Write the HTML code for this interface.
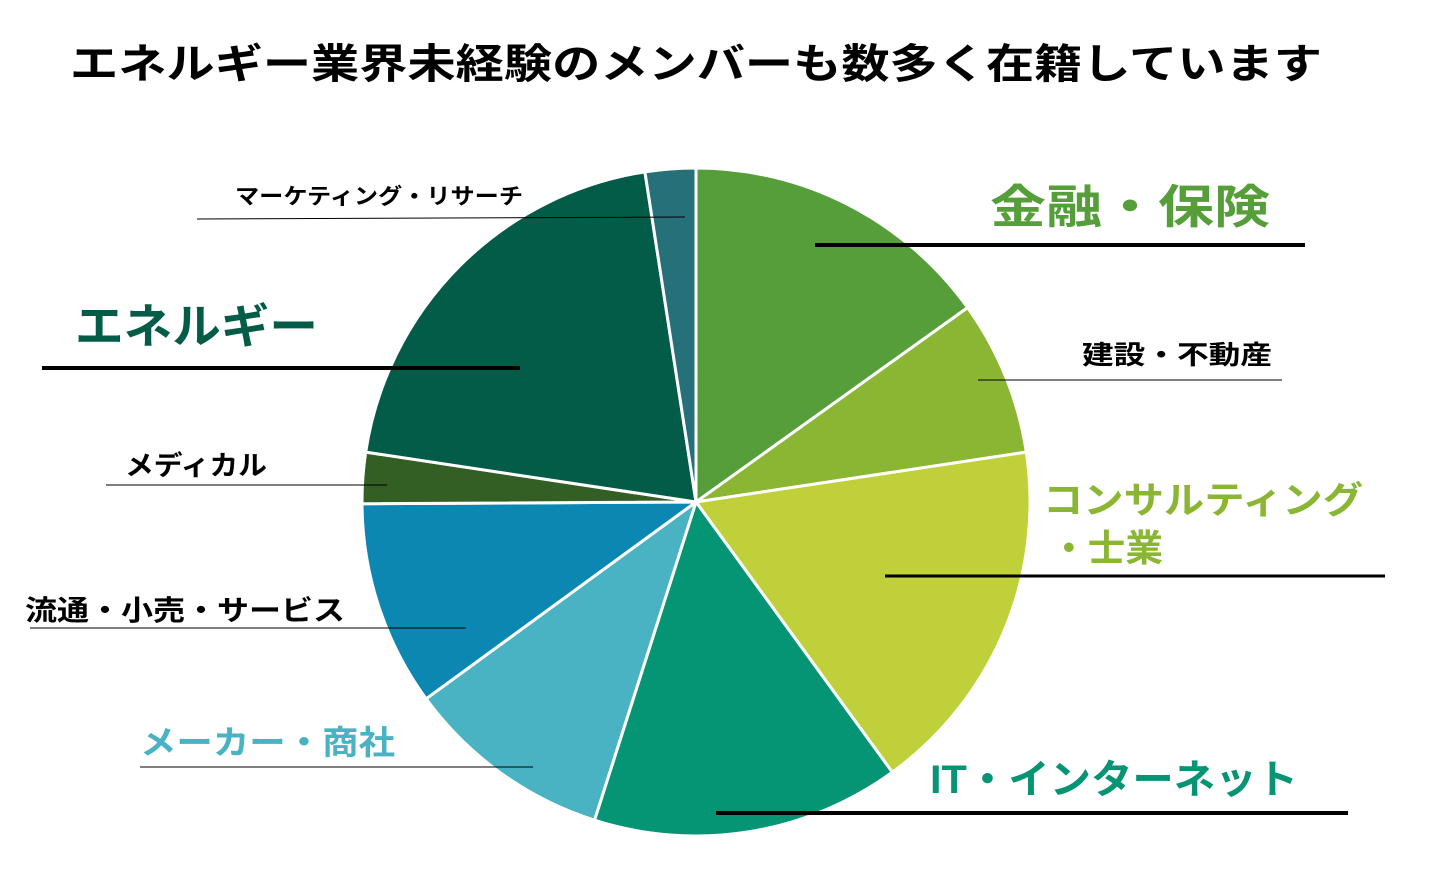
<!DOCTYPE html>
<html><head><meta charset="utf-8"><style>
html,body{margin:0;padding:0;background:#fff;}
svg{display:block;}
text{font-family:"Liberation Sans","Noto Sans CJK JP",sans-serif;font-weight:bold;}
</style></head><body>
<svg width="1440" height="881" viewBox="0 0 1440 881" xmlns="http://www.w3.org/2000/svg">
<text x="70" y="78" font-size="41" fill="#000" textLength="1252" lengthAdjust="spacingAndGlyphs">エネルギー業界未経験のメンバーも数多く在籍しています</text>
<g stroke="#fff" stroke-width="3" stroke-linejoin="round">
<path d="M696,502 L696,168 A334,334 0 0 1 967.6,307.6 Z" fill="#559e3a"/>
<path d="M696,502 L967.6,307.6 A334,334 0 0 1 1026.3,452.1 Z" fill="#8ab633"/>
<path d="M696,502 L1026.3,452.1 A334,334 0 0 1 892.3,772.2 Z" fill="#c0d03a"/>
<path d="M696,502 L892.3,772.2 A334,334 0 0 1 594.5,820.2 Z" fill="#059474"/>
<path d="M696,502 L594.5,820.2 A334,334 0 0 1 426.1,698.8 Z" fill="#4ab3c3"/>
<path d="M696,502 L426.1,698.8 A334,334 0 0 1 362,503.7 Z" fill="#0b87b2"/>
<path d="M696,502 L362,503.7 A334,334 0 0 1 365.7,452.1 Z" fill="#335e24"/>
<path d="M696,502 L365.7,452.1 A334,334 0 0 1 644.9,171.9 Z" fill="#035c47"/>
<path d="M696,502 L644.9,171.9 A334,334 0 0 1 696,168 Z" fill="#26707a"/>
</g>
<g stroke="#000">
<line x1="815" y1="245" x2="1305" y2="245" stroke-width="4"/>
<line x1="978" y1="380" x2="1282" y2="380" stroke-width="1"/>
<line x1="885" y1="576" x2="1385" y2="576" stroke-width="3"/>
<line x1="716" y1="813" x2="1348" y2="813" stroke-width="4"/>
<line x1="140" y1="767" x2="533" y2="767" stroke-width="1"/>
<line x1="30" y1="628" x2="466" y2="628" stroke-width="1"/>
<line x1="106" y1="485" x2="387" y2="485" stroke-width="1"/>
<line x1="42" y1="368" x2="520" y2="368" stroke-width="4"/>
<line x1="197" y1="219" x2="685" y2="217" stroke-width="1"/>
</g>
<text x="990" y="223" font-size="46" fill="#559e3a" textLength="280" lengthAdjust="spacingAndGlyphs">金融・保険</text>
<text x="1082" y="364" font-size="26" fill="#000" textLength="190" lengthAdjust="spacingAndGlyphs">建設・不動産</text>
<text x="1043" y="513" font-size="37" fill="#8ab633" textLength="320" lengthAdjust="spacingAndGlyphs">コンサルティング</text>
<text x="1050" y="561" font-size="37" fill="#8ab633" textLength="113" lengthAdjust="spacingAndGlyphs">・士業</text>
<text x="930" y="793" font-size="40" fill="#059474" textLength="368" lengthAdjust="spacingAndGlyphs">IT・インターネット</text>
<text x="140" y="754" font-size="33" fill="#4ab3c3" textLength="255" lengthAdjust="spacingAndGlyphs">メーカー・商社</text>
<text x="25" y="620" font-size="28" fill="#000" textLength="320" lengthAdjust="spacingAndGlyphs">流通・小売・サービス</text>
<text x="125" y="475" font-size="27" fill="#000" textLength="142" lengthAdjust="spacingAndGlyphs">メディカル</text>
<text x="75" y="343" font-size="47" fill="#035c47" textLength="243" lengthAdjust="spacingAndGlyphs">エネルギー</text>
<text x="235" y="204" font-size="22" fill="#000" textLength="288" lengthAdjust="spacingAndGlyphs">マーケティング・リサーチ</text>
</svg>
</body></html>
